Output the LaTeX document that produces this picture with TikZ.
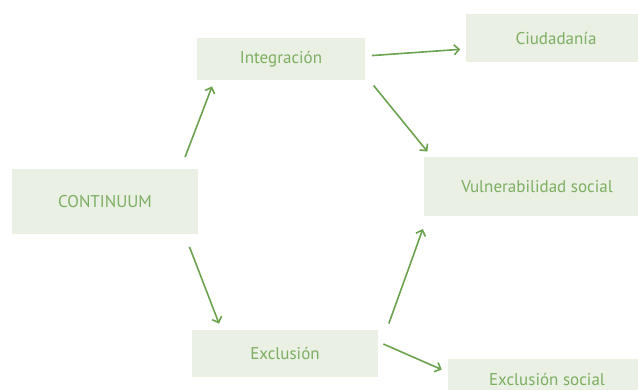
\documentclass[tikz,border=0pt]{standalone}
\usepackage{fontspec}
\setmainfont{PT Sans}
\usetikzlibrary{arrows.meta}
\definecolor{boxfill}{HTML}{EAF0E3}
\definecolor{boxtext}{HTML}{7DAE62}
\definecolor{arrowgreen}{HTML}{6AA24E}
\begin{document}
\begin{tikzpicture}[x=1pt, y=-1pt, line width=1.6pt,
  box/.style={fill=boxfill, text=boxtext, inner sep=0pt, font=\fontsize{17}{20}\selectfont},
  arr/.style={draw=arrowgreen, -{Straight Barb[length=5pt,width=10pt]}, shorten <=6pt, shorten >=6pt}]
  \useasboundingbox (0,0) rectangle (638,389);
  \node[box, minimum width=186pt, minimum height=65pt] (cont) at (105,201.5) {CONTINUUM};
  \node[box, minimum width=168pt, minimum height=42pt] (integ) at (281,59) {Integración};
  \node[box, minimum width=180pt, minimum height=48pt] (ciud) at (556,38) {Ciudadanía};
  \node[box, minimum width=226pt, minimum height=59pt] (vuln) at (537,186.5) {Vulnerabilidad social};
  \node[box, minimum width=186pt, minimum height=47pt] (excl) at (285,353.5) {Exclusión};
  \node[box, minimum width=198pt, minimum height=40pt] (exsoc) at (547,379) {Exclusión social};
  \draw[arr, shorten <=12pt] ([xshift=-18pt]cont.north east) -- ([xshift=18pt]integ.south west);
  \draw[arr, shorten >=5pt] ([yshift=3pt]integ.east) -- ([yshift=-11pt]ciud.west);
  \draw[arr] ([xshift=4pt]integ.south east) -- ([xshift=8pt]vuln.north west);
  \draw[arr, shorten <=13pt] ([xshift=-14pt]cont.south east) -- ([xshift=30pt]excl.north west);
  \draw[arr, shorten >=13pt] ([xshift=8pt]excl.north east) -- ([xshift=4pt]vuln.south west);
  \draw[arr, shorten <=5pt] ([yshift=11.5pt]excl.east) -- ([yshift=7pt]exsoc.west);
\end{tikzpicture}
\end{document}
